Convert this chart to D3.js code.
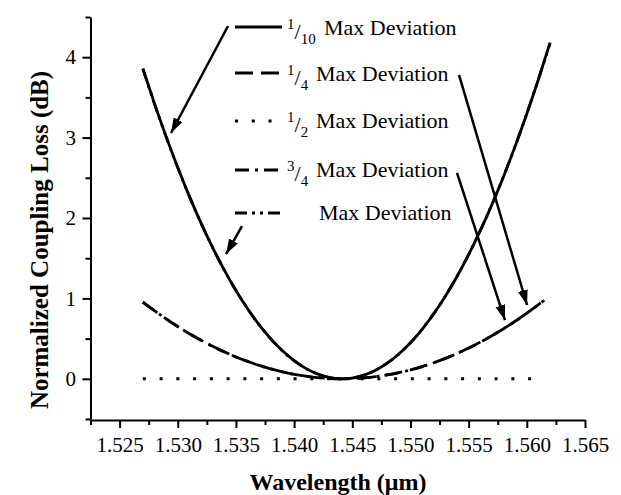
<!DOCTYPE html>
<html><head><meta charset="utf-8">
<script src="https://cdn.jsdelivr.net/npm/d3@7"></script>
<style>body{margin:0;background:#fff}svg{display:block}</style>
</head><body>
<svg id="chart" width="621" height="495"></svg>
<script>
// ---------------- DATA ----------------
const wavelength = [1.527,1.528,1.529,1.530,1.531,1.532,1.533,1.534,1.535,1.536,1.537,1.538,1.539,1.540,1.541,1.542,1.543,1.544,1.545,1.546,1.547,1.548,1.549,1.550,1.551,1.552,1.553,1.554,1.555,1.556,1.557,1.558,1.559,1.560,1.561,1.562];
const lossTenth = [3.860,3.423,3.012,2.628,2.269,1.937,1.632,1.352,1.099,0.872,0.671,0.496,0.348,0.226,0.130,0.061,0.017,0.000,0.009,0.045,0.107,0.195,0.309,0.449,0.616,0.809,1.028,1.273,1.545,1.843,2.167,2.517,2.894,3.297,3.726,4.182];
const lossMax   = [3.855,3.420,3.010,2.626,2.268,1.936,1.631,1.351,1.098,0.871,0.670,0.495,0.347,0.225,0.129,0.060,0.016,0.000,0.009,0.045,0.107,0.195,0.309,0.449,0.616,0.810,1.029,1.274,1.546,1.844,2.168,2.518,2.895,3.298,3.727,4.175];
const wavelengthShallow = [1.527,1.528,1.529,1.530,1.531,1.532,1.533,1.534,1.535,1.536,1.537,1.538,1.539,1.540,1.541,1.542,1.543,1.544,1.545,1.546,1.547,1.548,1.549,1.550,1.551,1.552,1.553,1.554,1.555,1.556,1.557,1.558,1.559,1.560,1.561,1.5615];
const lossQuarter      = [0.955,0.847,0.745,0.650,0.561,0.479,0.404,0.335,0.272,0.216,0.166,0.123,0.086,0.056,0.032,0.015,0.004,0.000,0.002,0.011,0.026,0.048,0.076,0.111,0.152,0.200,0.254,0.315,0.382,0.456,0.536,0.623,0.716,0.816,0.922,0.977];
const lossThreeQuarter = [0.955,0.847,0.745,0.650,0.561,0.479,0.404,0.335,0.272,0.216,0.166,0.123,0.086,0.056,0.032,0.015,0.004,0.000,0.002,0.011,0.026,0.048,0.076,0.111,0.152,0.200,0.254,0.315,0.382,0.456,0.536,0.623,0.716,0.816,0.922,0.977];
const lossHalf         = [0,0,0,0,0,0,0,0,0,0,0,0,0,0,0,0,0,0,0,0,0,0,0,0,0,0,0,0,0,0,0,0,0,0,0,0];
const xTickLabels = [1.525,1.530,1.535,1.540,1.545,1.550,1.555,1.560,1.565];
const xMinorTicks = [1.5225,1.5275,1.5325,1.5375,1.5425,1.5475,1.5525,1.5575,1.5625];
const yTickLabels = [0,1,2,3,4];
const yMinorTicks = [-0.5,0.5,1.5,2.5,3.5,4.5];
const legendNum = ["1","1","1","3",""];
const legendDen = ["10","4","2","4",""];
const legendText = ["Max Deviation","Max Deviation","Max Deviation","Max Deviation","Max Deviation"];
// annotation arrows in data space
const arrowStarts = [[1.53432,4.388],[1.53552,1.900],[1.55417,3.779],[1.55400,2.560]];
const arrowEnds   = [[1.52942,3.057],[1.53415,1.552],[1.56002,0.918],[1.55812,0.731]];

// ---------------- CHART ----------------
const svg = d3.select("#chart");
svg.append("rect").attr("width",621).attr("height",495).attr("fill","#fff");
const FONT = "'Liberation Serif','Times New Roman',serif";

const x = d3.scaleLinear().domain([1.5225,1.565]).range([90.5,585]);
const y = d3.scaleLinear().domain([-0.5,4.5]).range([419,17]);

const styles = {
  solid:   {dash:null, w:2.8},
  dashed:  {dash:"18,8", w:2.8},
  dotted:  {dash:"3,13.75", w:3},
  dashdot: {dash:"14,6,3,6", w:2.8},
  dashdotdot: {dash:"12,5,3,5,3,5", w:2.8}
};

const line = d3.line().x(d=>x(d[0])).y(d=>y(d[1])).curve(d3.curveMonotoneX);
function drawSeries(xs, ys, st){
  svg.append("path").datum(xs.map((v,i)=>[v,ys[i]]))
    .attr("d",line).attr("fill","none").attr("stroke","#000")
    .attr("stroke-width",st.w).attr("stroke-dasharray",st.dash)
    .attr("stroke-linejoin","round");
}
drawSeries(wavelengthShallow, lossHalf, styles.dotted);
drawSeries(wavelengthShallow, lossQuarter, styles.dashed);
drawSeries(wavelengthShallow, lossThreeQuarter, styles.dashdot);
drawSeries(wavelength, lossMax, styles.dashdotdot);
drawSeries(wavelength, lossTenth, styles.solid);

// axes
const xAxisG = svg.append("g").attr("transform",`translate(0,${y(-0.5)+1})`);
xAxisG.call(d3.axisBottom(x).tickValues(xTickLabels).tickFormat(d3.format(".3f")).tickSize(8).tickSizeOuter(0).tickPadding(9));
const xMinG = svg.append("g").attr("transform",`translate(0,${y(-0.5)+1})`);
xMinG.call(d3.axisBottom(x).tickValues(xMinorTicks).tickFormat("").tickSize(5).tickSizeOuter(0));
xMinG.select(".domain").remove();

const yAxisG = svg.append("g").attr("transform",`translate(${x(1.5225)},0)`);
yAxisG.call(d3.axisLeft(y).tickValues(yTickLabels).tickFormat(d3.format("d")).tickSize(8).tickSizeOuter(0).tickPadding(6.5));
const yMinG = svg.append("g").attr("transform",`translate(${x(1.5225)},0)`);
yMinG.call(d3.axisLeft(y).tickValues(yMinorTicks).tickFormat("").tickSize(5).tickSizeOuter(0));
yMinG.select(".domain").remove();

svg.selectAll(".domain").attr("stroke","#000").attr("stroke-width",2);
svg.selectAll(".tick line").attr("stroke","#000").attr("stroke-width",2);
svg.selectAll(".tick text").attr("font-family",FONT).attr("font-size",21).attr("fill","#000");

// axis titles
svg.append("text").attr("x",338).attr("y",490).attr("text-anchor","middle")
  .attr("font-family",FONT).attr("font-weight","bold").attr("font-size",24)
  .text("Wavelength (\u03bcm)");
svg.append("text").attr("transform","translate(48,240) rotate(-90)").attr("text-anchor","middle")
  .attr("font-family",FONT).attr("font-weight","bold").attr("font-size",25)
  .text("Normalized Coupling Loss (dB)");

// legend
const legendStyles = [styles.solid, styles.dashed, styles.dotted, styles.dashdot, styles.dashdotdot];
const legendRowY = [27,73,121,170,213];
const legendBase = [35,81,128,177,220];
const legendTextX = [324,316,316,316,319];
legendStyles.forEach((st,i)=>{
  svg.append("line").attr("x1",235).attr("x2",282).attr("y1",legendRowY[i]).attr("y2",legendRowY[i])
    .attr("stroke","#000").attr("stroke-width",st.w).attr("stroke-dasharray",st.dash);
  const t = svg.append("text").attr("font-family",FONT).attr("font-size",22).attr("fill","#000");
  if(legendNum[i]){
    t.append("tspan").attr("x",287).attr("y",legendBase[i]-6).attr("font-size",15).text(legendNum[i]);
    t.append("tspan").attr("y",legendBase[i]+4).attr("font-size",22).text("/");
    t.append("tspan").attr("y",legendBase[i]+9).attr("font-size",15).text(legendDen[i]);
  }
  t.append("tspan").attr("x",legendTextX[i]).attr("y",legendBase[i]).attr("font-size",22).text(legendText[i]);
});

// arrows
svg.append("defs").append("marker").attr("id","ah").attr("markerUnits","userSpaceOnUse")
  .attr("markerWidth",16).attr("markerHeight",12).attr("refX",15).attr("refY",5)
  .attr("orient","auto").append("path").attr("d","M0,0 L15,5 L0,10 Z").attr("fill","#000");
arrowStarts.forEach((s,i)=>{
  const e = arrowEnds[i];
  svg.append("line").attr("x1",x(s[0])).attr("y1",y(s[1])).attr("x2",x(e[0])).attr("y2",y(e[1]))
    .attr("stroke","#000").attr("stroke-width",2.5).attr("marker-end","url(#ah)");
});
</script>
</body></html>
